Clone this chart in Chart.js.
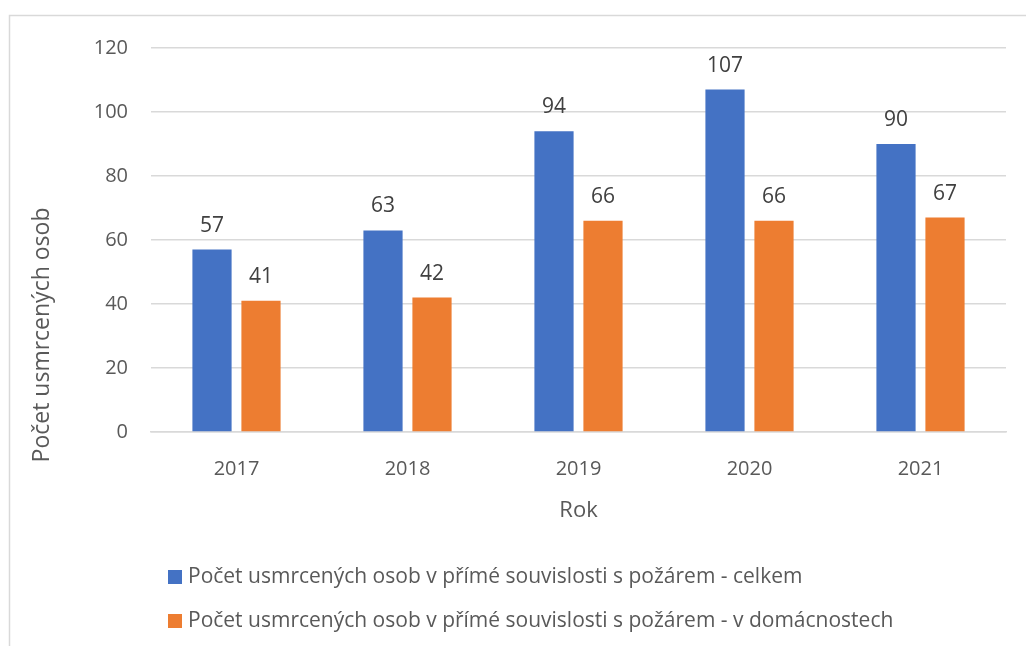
<!DOCTYPE html>
<html>
<head>
<meta charset="utf-8">
<script src="https://cdn.jsdelivr.net/npm/chart.js@4/dist/chart.umd.min.js"></script>
<style>
  html, body { margin: 0; padding: 0; background: #fff; }
  #wrap { width: 1026px; height: 646px; position: relative; }
</style>
</head>
<body>
<div id="wrap"><canvas id="c" width="1026" height="646"></canvas></div>
<script>
const years = ['2017', '2018', '2019', '2020', '2021'];
const totalDeaths = [57, 63, 94, 107, 90];
const homeDeaths = [41, 42, 66, 66, 67];
const seriesNames = [
  'Počet usmrcených osob v přímé souvislosti s požárem - celkem',
  'Počet usmrcených osob v přímé souvislosti s požárem - v domácnostech'
];
const yTicks = [0, 20, 40, 60, 80, 100, 120];
const yTitle = 'Počet usmrcených osob';
const xTitle = 'Rok';

const FONT = "'Open Sans', sans-serif";
const TEXT = '#595959';

// frame, value labels, rotated y title and the legend
const extras = {
  id: 'extras',
  beforeDraw(chart) {
    const ctx = chart.ctx;
    ctx.save();
    ctx.strokeStyle = '#d9d9d9';
    ctx.lineWidth = 1.5;
    ctx.strokeRect(9.5, 15.5, 1200, 1000);
    ctx.restore();
  },
  afterDatasetsDraw(chart) {
    const ctx = chart.ctx;
    ctx.save();
    ctx.font = '21px ' + FONT;
    ctx.fillStyle = '#404040';
    ctx.textAlign = 'center';
    ctx.textBaseline = 'alphabetic';
    chart.data.datasets.forEach((ds, i) => {
      chart.getDatasetMeta(i).data.forEach((bar, j) => {
        ctx.fillText(ds.data[j], bar.x, bar.y - 18);
      });
    });
    ctx.restore();
  },
  afterDraw(chart) {
    const ctx = chart.ctx;
    const area = chart.chartArea;
    ctx.save();
    // y title
    ctx.translate(42, 335);
    ctx.rotate(-Math.PI / 2);
    ctx.font = '23px ' + FONT;
    ctx.fillStyle = TEXT;
    ctx.textAlign = 'center';
    ctx.textBaseline = 'middle';
    ctx.fillText(yTitle, 0, 0);
    ctx.restore();

    // legend, one row per series
    ctx.save();
    ctx.font = '21px ' + FONT;
    ctx.textBaseline = 'middle';
    ctx.textAlign = 'left';
    chart.data.datasets.forEach((ds, i) => {
      const y = area.bottom + 145 + i * 44;
      const x = area.left + 17;
      ctx.fillStyle = ds.backgroundColor;
      ctx.fillRect(x, y - 7, 14, 14);
      ctx.fillStyle = TEXT;
      ctx.fillText(ds.label, x + 20, y);
    });
    ctx.restore();
  }
};

new Chart(document.getElementById('c'), {
  type: 'bar',
  data: {
    labels: years,
    datasets: [
      { label: seriesNames[0], data: totalDeaths, backgroundColor: '#4472C4' },
      { label: seriesNames[1], data: homeDeaths, backgroundColor: '#ED7D31' }
    ]
  },
  options: {
    responsive: false,
    animation: false,
    categoryPercentage: 0.573,
    barPercentage: 0.8,
    layout: { padding: { left: 0, right: 20, top: 48, bottom: 114 } },
    plugins: {
      legend: { display: false },
      tooltip: { enabled: false }
    },
    scales: {
      x: {
        grid: { display: false },
        border: { color: '#d9d9d9', width: 1.5 },
        ticks: { color: TEXT, font: { size: 20, family: FONT }, padding: 17 },
        title: {
          display: true,
          text: xTitle,
          color: TEXT,
          font: { size: 22, family: FONT },
          padding: { top: 0, bottom: 8 }
        },
        afterFit(scale) { scale.height = 100; }
      },
      y: {
        min: 0,
        max: 120,
        afterBuildTicks(scale) { scale.ticks = yTicks.map(v => ({ value: v })); },
        grid: { color: '#d9d9d9', lineWidth: 1.5, drawTicks: false },
        border: { display: false },
        ticks: { color: TEXT, font: { size: 20, family: FONT }, padding: 23 },
        afterFit(scale) { scale.width = 151; }
      }
    }
  },
  plugins: [extras]
});
</script>
</body>
</html>
